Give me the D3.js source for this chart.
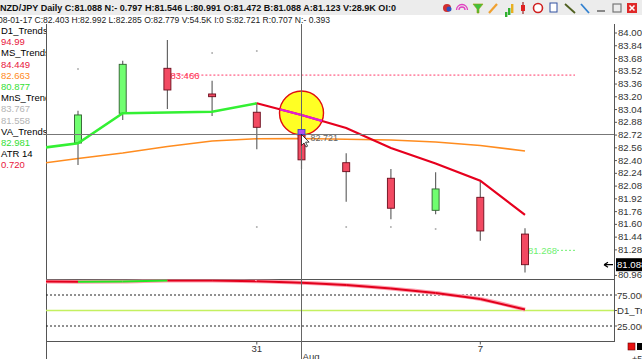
<!DOCTYPE html>
<html><head><meta charset="utf-8">
<script src="https://cdn.jsdelivr.net/npm/d3@7"></script>
<style>body{margin:0;background:#fff;overflow:hidden} svg{display:block;font-family:"Liberation Sans",Arial,sans-serif}</style>
</head><body><svg id="c" width="642" height="359"></svg>
<script>
// ---------- data ----------
const dates = ["07-24","07-25","07-26","07-27","07-28","07-31","08-01","08-02","08-03","08-04","08-07","08-08"];
const candleDates = ["07-25","07-26","07-27","07-28","07-31","08-01","08-02","08-03","08-04","08-07","08-08"];
const open  = [82.614, 82.987, 83.551, 83.229, 83.000, 82.779, 82.367, 82.172, 81.770, 81.933, 81.472];
const high  = [83.019, 83.646, 83.906, 83.396, 83.120, 82.992, 82.485, 82.288, 82.247, 82.142, 81.546];
const low   = [82.339, 82.903, 83.041, 82.953, 82.535, 82.285, 81.878, 81.658, 81.720, 81.389, 80.991];
const close = [82.966, 83.601, 83.279, 83.195, 82.811, 82.403, 82.255, 81.796, 82.038, 81.511, 81.088];
const vaTrend = [82.539, 82.611, 82.987, 82.997, 83.007, 83.112, 82.966, 82.803, 82.552, 82.357, 82.142, 81.712];
const vaGreenUntil = "07-31";
const msTrend = [82.345, 82.420, 82.489, 82.571, 82.640, 82.668, 82.671, 82.661, 82.652, 82.627, 82.583, 82.514];
const d1Osc = [96.8, 96.5, 96.8, 98.4, 98.3, 97.1, 94.8, 91.1, 85.5, 78.2, 68.5, 51.6];
const mnsUpperDates = ["07-25","07-28","07-31"];
const mnsUpper = [83.542, 83.743, 83.767];
const mnsLowerDates = ["07-31","08-02","08-03","08-04"];
const mnsLower = [81.561, 81.561, 81.561, 81.536];
const priceTicks = [84.000,83.840,83.680,83.520,83.360,83.200,83.040,82.880,82.720,82.560,82.400,82.240,82.080,81.920,81.760,81.600,81.440,81.280,80.960];
const oscLevels = [75, 50, 25];
const oscLabels = ["75.000", "D1_Tre", "25.000"];
const dateLabels = [["07-31","31"],["08-07","7"]];
const monthLabel = ["08-01","Aug"];
const lastPrice = 81.088;
const resistance = 83.466, support = 81.268;
const crossDate = "08-01", crossPrice = 82.721;
const headerText = "NZD/JPY Daily C:81.088 N:- 0.797 H:81.546 L:80.991 O:81.472 B:81.088 A:81.123 V:28.9K OI:0";
const infoText = "08-01-17 C:82.403 H:82.992 L:82.285 O:82.779 V:54.5K I:0 S:82.721 R:0.707 N:- 0.393";
const legendItems = [
  ["D1_Trendsig","#000"],["94.99","#e8163c"],["MS_Trendsig","#000"],["84.449","#e8163c"],["82.663","#ff8a1c"],
  ["80.877","#33e033"],["MnS_Trendsig","#000"],["83.767","#b4b4b4"],["81.558","#b4b4b4"],["VA_Trendsig","#000"],
  ["82.981","#33e033"],["ATR  14","#000"],["0.720","#e8163c"]];

// ---------- layout ----------
const L = 46, R = 614, T = 24, MB = 279.5, B = 341.5;
const svg = d3.select("#c");
const x = d3.scalePoint().domain(dates).range([33.3, 525]);
const y = d3.scaleLinear().domain([80.96, 84.0]).range([274.9, 32.5]);
const yo = d3.scaleLinear().domain([0, 100]).range([B, MB]);

const defs = svg.append("defs");
defs.append("clipPath").attr("id","cm").append("rect").attr("x",L).attr("y",T).attr("width",R-L).attr("height",MB-T);
defs.append("clipPath").attr("id","cl").append("rect").attr("x",L).attr("y",MB).attr("width",R-L).attr("height",B-MB);
defs.append("clipPath").attr("id","cleg").append("rect").attr("x",0).attr("y",T).attr("width",L).attr("height",200);
defs.append("clipPath").attr("id","ccirc").append("circle").attr("cx",x(crossDate)).attr("cy",y(82.99)).attr("r",22);

// header
svg.append("rect").attr("x",0).attr("y",0).attr("width",642).attr("height",15).attr("fill","#ececec");
svg.append("text").attr("x",0).attr("y",11).attr("font-size",9.5).attr("font-weight","bold").attr("fill","#111")
  .attr("textLength",396).attr("lengthAdjust","spacingAndGlyphs").text(headerText);
svg.append("text").attr("x",-2).attr("y",23).attr("font-size",8.6).attr("fill","#222")
  .attr("textLength",332).attr("lengthAdjust","spacingAndGlyphs").text(infoText);

// header icons (approximate)
const ic = svg.append("g");
ic.append("circle").attr("cx",447).attr("cy",8).attr("r",4).attr("fill","#d03030");
ic.append("circle").attr("cx",449).attr("cy",9).attr("r",2.5).attr("fill","#3050c0");
[3,5.5].forEach(r=>ic.append("path").attr("d",`M${462-r},${10} A${r},${r} 0 0 1 ${462+r},10`).attr("fill","none").attr("stroke","#e040c0").attr("stroke-width",1.3));
ic.append("path").attr("d","M473,4 L483,4 L479,9 L479,13 L477,13 L477,9 Z").attr("fill","#40c040").attr("stroke","#a0a000").attr("stroke-width",0.6);
ic.append("line").attr("x1",489).attr("y1",13).attr("x2",497).attr("y2",4).attr("stroke","#f0a030").attr("stroke-width",2.2);
[[505,8,5],[508,6,7],[511,4,9]].forEach(([a,b,h])=>ic.append("rect").attr("x",a).attr("y",b+ (9-h)).attr("width",2.4).attr("height",h).attr("fill",a===511?"#e8b020":"#30b030"));
ic.append("line").attr("x1",523).attr("y1",2).attr("x2",523).attr("y2",14).attr("stroke","#800").attr("stroke-width",1);
ic.append("rect").attr("x",521).attr("y",5).attr("width",4).attr("height",6).attr("fill","#e02020");
ic.append("circle").attr("cx",538).attr("cy",8).attr("r",4.5).attr("fill","#fff").attr("stroke","#d02020").attr("stroke-width",1.6);
ic.append("rect").attr("x",550).attr("y",3).attr("width",7).attr("height",9).attr("fill","#fff").attr("stroke","#3050a0");
ic.append("line").attr("x1",565).attr("y1",4).attr("x2",575).attr("y2",13).attr("stroke","#506020").attr("stroke-width",1.8);
ic.append("line").attr("x1",581).attr("y1",4).attr("x2",589).attr("y2",13).attr("stroke","#3080d0").attr("stroke-width",1.8);
ic.append("line").attr("x1",597).attr("y1",11).attr("x2",605).attr("y2",11).attr("stroke","#888").attr("stroke-width",2);
ic.append("rect").attr("x",613).attr("y",4).attr("width",8).attr("height",8).attr("fill","none").attr("stroke","#777").attr("stroke-width",1.2);
ic.append("rect").attr("x",627).attr("y",3).attr("width",10).attr("height",10).attr("fill","#e02828");
ic.append("path").attr("d","M629.5,5.5 L634.5,10.5 M634.5,5.5 L629.5,10.5").attr("stroke","#fff").attr("stroke-width",1.6);

// legend
const lg = svg.append("g").attr("clip-path","url(#cleg)");
legendItems.forEach((d,i)=>{
  lg.append("text").attr("x",1).attr("y",34 + i*11.2).attr("font-size",9.5).attr("fill",d[1]).text(d[0]);
});

// borders
const bd = svg.append("g").attr("stroke","#555").attr("stroke-width",1).attr("shape-rendering","crispEdges");
bd.append("line").attr("x1",L).attr("x2",L).attr("y1",T).attr("y2",359);
bd.append("line").attr("x1",R).attr("x2",R).attr("y1",T).attr("y2",B);
bd.append("line").attr("x1",L).attr("x2",R).attr("y1",MB).attr("y2",MB);
bd.append("line").attr("x1",L).attr("x2",R).attr("y1",B).attr("y2",B);

// right axis
const ax = svg.append("g").attr("transform",`translate(${R},0)`)
  .call(d3.axisRight(y).tickValues(priceTicks).tickFormat(d3.format(".3f")).tickSize(3).tickPadding(1));
ax.select(".domain").remove();
ax.selectAll("text").attr("font-size",9.6).attr("fill","#333").attr("font-family","Liberation Sans, Arial");
ax.selectAll("line").attr("stroke","#555");

// lower panel axis labels
oscLevels.forEach((v,i)=>{
  svg.append("text").attr("x",R+3).attr("y",yo(v)+3.5).attr("font-size",9.6).attr("fill","#333").text(oscLabels[i]);
  svg.append("line").attr("x1",R).attr("x2",R+3).attr("y1",yo(v)).attr("y2",yo(v)).attr("stroke","#555");
});

// main plot
const gm = svg.append("g").attr("clip-path","url(#cm)");
gm.append("path").datum(msTrend).attr("fill","none").attr("stroke","#ff8c1f").attr("stroke-width",1.6)
  .attr("d",d3.line().x((d,i)=>x(dates[i])).y(d=>y(d)));

gm.append("line").attr("x1",x("07-27")+2).attr("x2",575).attr("y1",y(resistance)).attr("y2",y(resistance))
  .attr("stroke","#ff3868").attr("stroke-dasharray","2,2").attr("stroke-width",1);
gm.append("text").attr("x",x("07-27")+3).attr("y",y(resistance)+3.5).attr("font-size",9.5).attr("fill","#ff3050").text(resistance.toFixed(3));
gm.append("line").attr("x1",557).attr("x2",576).attr("y1",y(support)).attr("y2",y(support))
  .attr("stroke","#70f070").attr("stroke-dasharray","2,2").attr("stroke-width",1);
gm.append("text").attr("x",x("08-08")+3).attr("y",y(support)+3.5).attr("font-size",9.5).attr("fill","#70f070").text(support.toFixed(3));

const cg = gm.append("g");
candleDates.forEach((d,i)=>{
  const cx = x(d), up = close[i] >= open[i];
  cg.append("line").attr("x1",cx).attr("x2",cx).attr("y1",y(high[i])).attr("y2",y(low[i]))
    .attr("stroke","#666").attr("stroke-width",1.2);
  const top = y(Math.max(open[i],close[i])), bot = y(Math.min(open[i],close[i]));
  cg.append("rect").attr("x",cx-3.5).attr("y",top).attr("width",7).attr("height",Math.max(1.5,bot-top))
    .attr("fill",up?"#70ff70":"#f24a62").attr("stroke",up?"#2f5f2f":"#6a0c1c").attr("stroke-width",0.9);
});

mnsUpper.forEach((v,i)=>gm.append("circle").attr("cx",x(mnsUpperDates[i])).attr("cy",y(v)).attr("r",1).attr("fill","#b0b0b0"));
mnsLower.forEach((v,i)=>gm.append("circle").attr("cx",x(mnsLowerDates[i])).attr("cy",y(v)).attr("r",1).attr("fill","#b0b0b0"));

gm.append("circle").attr("cx",x(crossDate)).attr("cy",y(82.99)).attr("r",22)
  .attr("fill","#ffff24").attr("stroke","#e01010").attr("stroke-width",1.4);

const gi = dates.indexOf(vaGreenUntil);
const vaLine = d3.line().x(d=>x(d[0])).y(d=>y(d[1]));
const vaPts = dates.map((d,i)=>[d,vaTrend[i]]);
gm.append("path").datum(vaPts.slice(0,gi+1)).attr("fill","none").attr("stroke","#33f033").attr("stroke-width",2.6).attr("d",vaLine);
gm.append("path").datum(vaPts.slice(gi)).attr("fill","none").attr("stroke","#e6001e").attr("stroke-width",2.2).attr("d",vaLine);
gm.append("path").datum(vaPts.slice(gi)).attr("fill","none").attr("stroke","#e020d8").attr("stroke-width",2.2)
  .attr("clip-path","url(#ccirc)").attr("d",vaLine);

// lower panel
const gl = svg.append("g").attr("clip-path","url(#cl)");
gl.append("line").attr("x1",L).attr("x2",R).attr("y1",yo(50)).attr("y2",yo(50)).attr("stroke","#c4f060").attr("stroke-width",1.3);
[75,25].forEach(v=>gl.append("line").attr("x1",L).attr("x2",R).attr("y1",yo(v)).attr("y2",yo(v))
  .attr("stroke","#222").attr("stroke-dasharray","2,2").attr("stroke-width",1));
const oscPts = dates.map((d,i)=>[x(d),yo(d1Osc[i])]);
gl.append("path").datum(oscPts).attr("fill","none").attr("stroke","#ffa0b0").attr("stroke-width",4)
  .attr("d",d3.line().curve(d3.curveMonotoneX));
for(let i=0;i<oscPts.length-1;i++){
  gl.append("path").datum([oscPts[i],oscPts[i+1]]).attr("fill","none")
    .attr("stroke", d1Osc[i+1]>d1Osc[i] ? "#22e622" : "#e2001c").attr("stroke-width",2)
    .attr("d",d3.line());
}

// crosshair
const cX = x(crossDate), cY = y(crossPrice);
svg.append("line").attr("x1",cX).attr("x2",cX).attr("y1",T).attr("y2",359).attr("stroke","#666").attr("stroke-width",1).attr("shape-rendering","crispEdges");
svg.append("line").attr("x1",L).attr("x2",R).attr("y1",cY).attr("y2",cY).attr("stroke","#777").attr("stroke-width",1).attr("shape-rendering","crispEdges");
svg.append("rect").attr("x",cX-3.5).attr("y",cY-5).attr("width",7).attr("height",5).attr("fill","#b050f0").attr("stroke","#3040c0").attr("stroke-width",0.8);
svg.append("path").attr("d",`M${cX},${cY} l0,11 l2.5,-2.5 l2,4 l1.6,-0.8 l-2,-4 l3.5,0 Z`).attr("fill","#fff").attr("stroke","#000").attr("stroke-width",0.7);
svg.append("text").attr("x",cX+9).attr("y",cY+7).attr("font-size",9).attr("fill","#666").text(crossPrice.toFixed(3));

// last price marker
const lpY = y(lastPrice);
svg.append("rect").attr("x",R+2).attr("y",lpY-6.5).attr("width",30).attr("height",13).attr("fill","#000");
svg.append("text").attr("x",R+3).attr("y",lpY+3.5).attr("font-size",9.6).attr("fill","#fff").text(lastPrice.toFixed(3));
svg.append("path").attr("d",`M${R-10},${lpY} L${R-1},${lpY} M${R-10},${lpY} l4,-2.5 M${R-10},${lpY} l4,2.5`).attr("stroke","#000").attr("stroke-width",1.2).attr("fill","none");

// date axis
dateLabels.forEach(([d,t])=>{
  svg.append("line").attr("x1",x(d)).attr("x2",x(d)).attr("y1",B).attr("y2",B+3).attr("stroke","#555");
  svg.append("text").attr("x",x(d)).attr("y",352).attr("text-anchor","middle").attr("font-size",9.6).attr("fill","#333").text(t);
});
svg.append("text").attr("x",x(monthLabel[0])+1).attr("y",360).attr("font-size",9.6).attr("fill","#333").text(monthLabel[1]);

// bottom-right squares
svg.append("rect").attr("x",628).attr("y",343).attr("width",7).attr("height",7).attr("fill","#e81010").attr("stroke","#600").attr("stroke-width",0.6);
svg.append("rect").attr("x",637).attr("y",343).attr("width",7).attr("height",7).attr("fill","#000");
svg.append("text").attr("x",632).attr("y",362).attr("font-size",9).attr("fill","#333").text("+5");
</script></body></html>
